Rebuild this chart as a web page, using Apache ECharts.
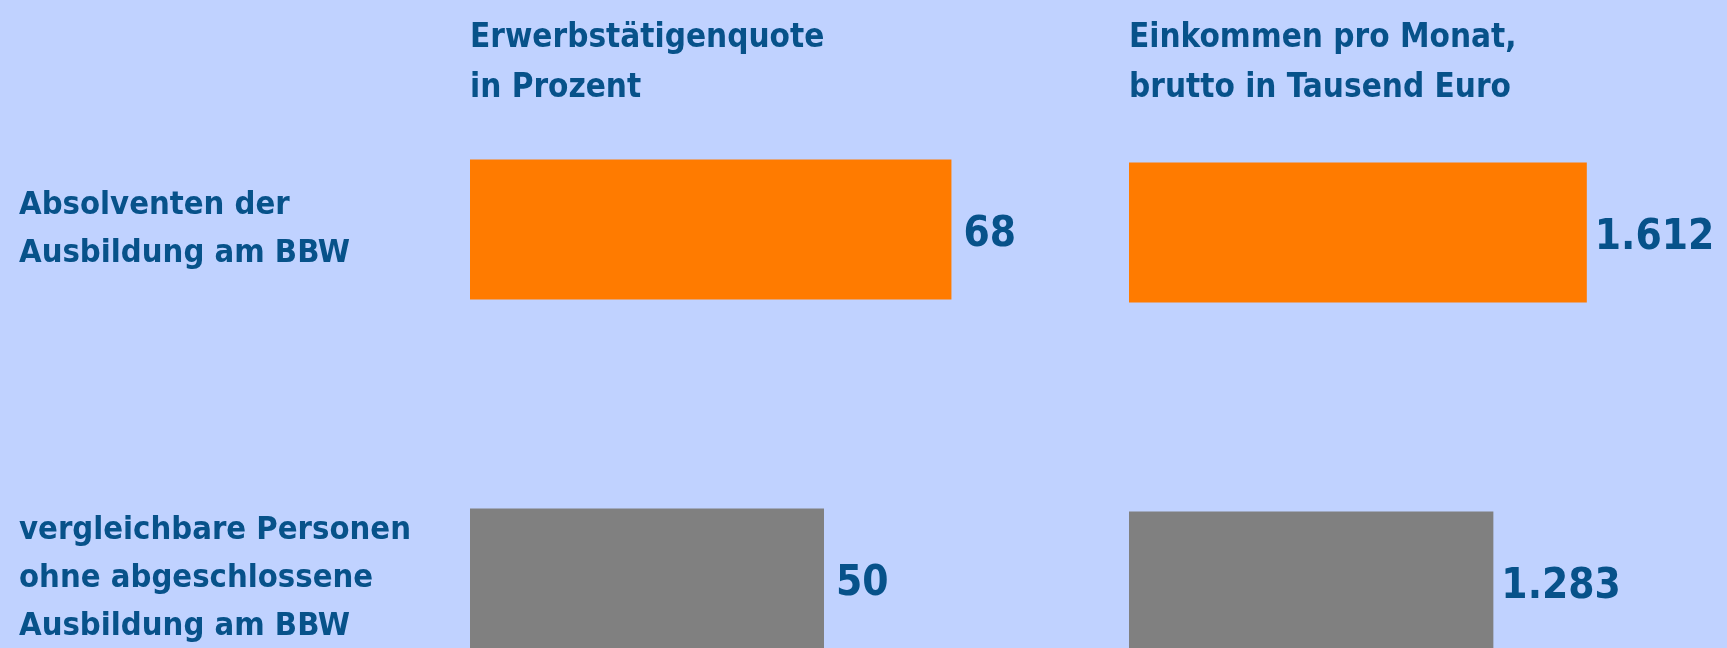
<!DOCTYPE html>
<html lang="de">
<head>
<meta charset="utf-8">
<title>Erwerbstätigenquote und Einkommen</title>
<script src="https://cdn.jsdelivr.net/npm/echarts@6/dist/echarts.min.js"></script>
<style>
  html, body { margin: 0; padding: 0; background: #c0d2ff; }
  #chart { width: 1727px; height: 648px; }
</style>
</head>
<body>
<div id="chart"></div>
<script>
// Daten
var gruppen = ['Absolventen der\nAusbildung am BBW', 'vergleichbare Personen\nohne abgeschlossene\nAusbildung am BBW'];
var quote = [68, 50];          // Erwerbstätigenquote in Prozent
var einkommen = [1612, 1283];  // Einkommen pro Monat, brutto
var farben = ['#ff7b00', '#808080'];

var schrift = "'Liberation Sans Narrow', 'Arial Narrow', 'DejaVu Sans Condensed', sans-serif";
var blau = '#07528a';

function punkt(v) {  // 1612 -> 1.612
  return String(v).replace(/\B(?=(\d{3})+(?!\d))/g, '.');
}

function balken(werte) {
  return werte.map(function (v, i) {
    return { value: v, itemStyle: { color: farben[i] } };
  });
}

var myChart = echarts.init(document.getElementById('chart'));
var option = {
  backgroundColor: '#c0d2ff',
  animation: false,
  title: [
    { text: 'Erwerbstätigenquote\nin Prozent', left: 470, top: 13, padding: 0,
      textStyle: { fontFamily: schrift, fontSize: 33, fontWeight: 'bold', color: blau, lineHeight: 50 } },
    { text: 'Einkommen pro Monat,\nbrutto in Tausend Euro', left: 1129, top: 13, padding: 0,
      textStyle: { fontFamily: schrift, fontSize: 33, fontWeight: 'bold', color: blau, lineHeight: 50 } }
  ],
  grid: [
    { left: 470, top: 55, width: 708, height: 698, outerBoundsMode: 'none' },
    { left: 1129, top: 58, width: 568, height: 698, outerBoundsMode: 'none' }
  ],
  xAxis: [
    { gridIndex: 0, type: 'value', min: 0, max: 100, show: false },
    { gridIndex: 1, type: 'value', min: 0, max: 2000, show: false }
  ],
  yAxis: [
    {
      gridIndex: 0, type: 'category', data: gruppen, inverse: true,
      axisLine: { show: false }, axisTick: { show: false }, splitLine: { show: false },
      axisLabel: {
        align: 'left', margin: 451, padding: [6, 0, 0, 0],
        fontFamily: schrift, fontSize: 32.5, fontWeight: 'bold', color: blau, lineHeight: 48
      }
    },
    {
      gridIndex: 1, type: 'category', data: gruppen, inverse: true, show: false
    }
  ],
  series: [
    {
      type: 'bar', xAxisIndex: 0, yAxisIndex: 0, barWidth: 140,
      data: balken(quote),
      label: { show: true, position: 'right', distance: 12, offset: [0, 6],
        fontFamily: schrift, fontSize: 42, fontWeight: 'bold', color: blau }
    },
    {
      type: 'bar', xAxisIndex: 1, yAxisIndex: 1, barWidth: 140,
      data: balken(einkommen),
      label: { show: true, position: 'right', distance: 8, offset: [0, 6],
        fontFamily: schrift, fontSize: 42, fontWeight: 'bold', color: blau,
        formatter: function (p) { return punkt(p.value); } }
    }
  ]
};
myChart.setOption(option);
</script>
</body>
</html>
